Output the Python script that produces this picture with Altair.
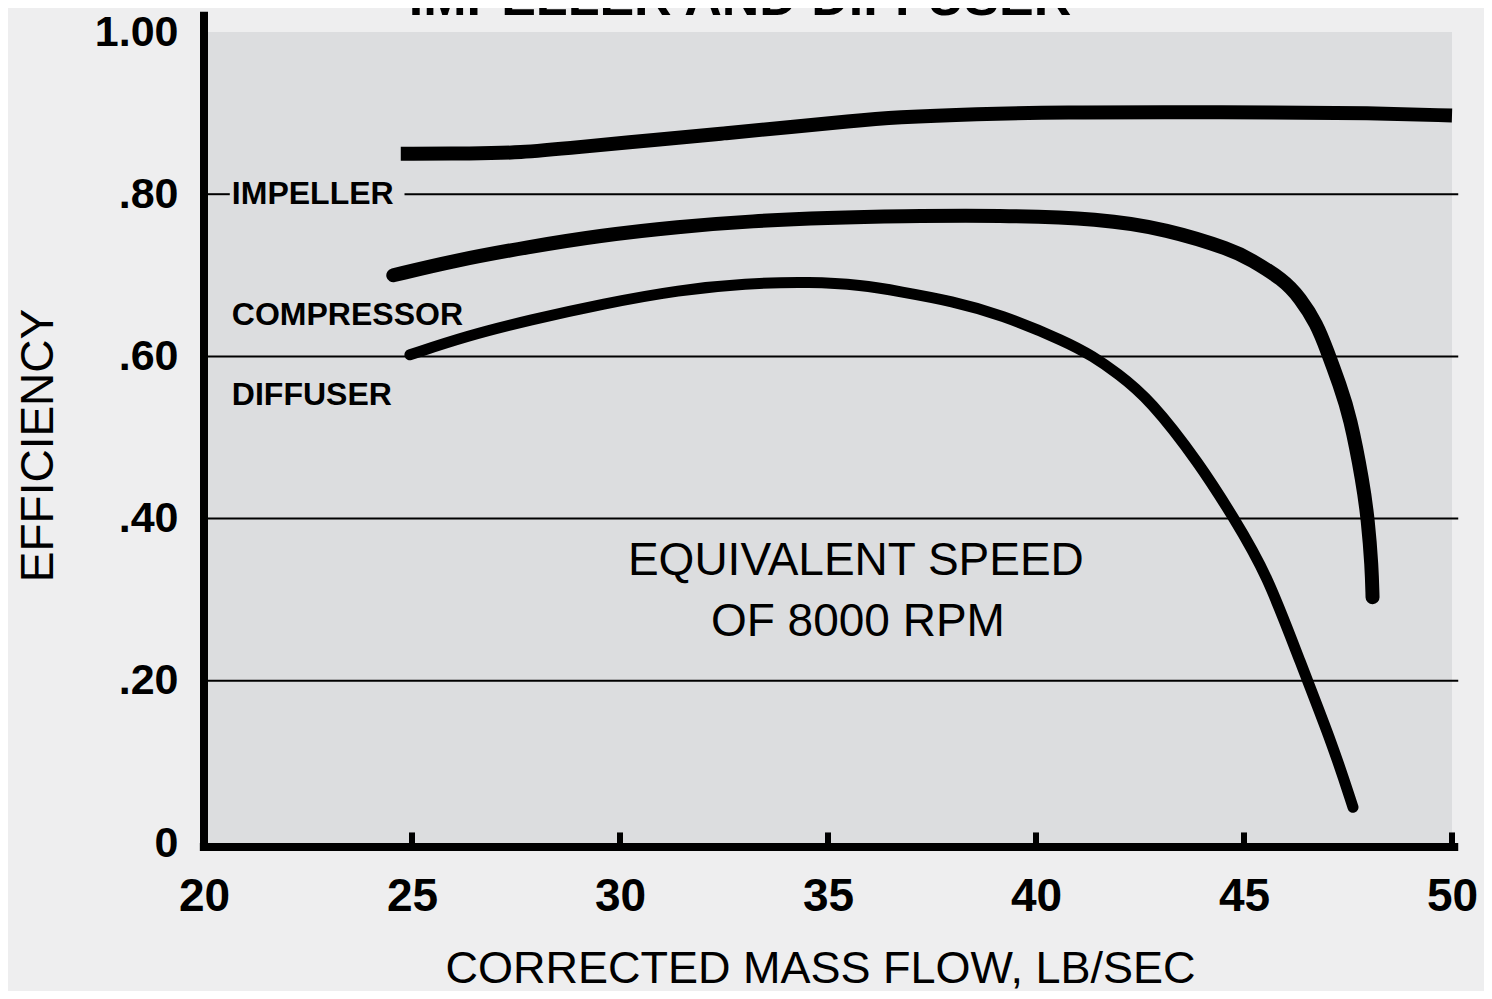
import altair as alt
import pandas as pd

FONT = "Liberation Sans"

# ---- data ----
imp_x = [24.73, 26.5, 27.55, 29.0, 30.85, 32.5, 34.16, 35.5, 36.65, 38.5, 40.8, 43.0, 45.75, 48.0, 50.0]
imp_y = [0.850, 0.850, 0.851, 0.858, 0.867, 0.875, 0.883, 0.890, 0.895, 0.899, 0.901, 0.901, 0.901, 0.900, 0.897]

comp_x = [24.55, 26.0, 27.8, 29.5, 31.4, 33.2, 35.0, 36.73, 39.13, 41.54, 43.14, 44.74, 45.14,
          45.94, 46.35, 46.75, 47.0, 47.3, 47.55, 47.86, 47.98, 48.07, 48.09]
comp_y = [0.700, 0.718, 0.735, 0.749, 0.760, 0.767, 0.771, 0.773, 0.774, 0.770, 0.757, 0.731, 0.720,
          0.695, 0.672, 0.640, 0.607, 0.565, 0.526, 0.444, 0.398, 0.341, 0.303]

diff_x = [24.95, 26.3, 27.84, 29.6, 31.44, 33.0, 34.6, 35.8, 36.73, 38.0, 39.13, 40.74, 41.37,
          41.94, 42.74, 43.94, 44.74, 45.55, 46.35, 47.14, 47.62]
diff_y = [0.602, 0.625, 0.645, 0.665, 0.682, 0.690, 0.692, 0.688, 0.680, 0.668, 0.652, 0.618, 0.600,
          0.580, 0.547, 0.467, 0.402, 0.332, 0.223, 0.120, 0.044]

x_ticks = [20, 25, 30, 35, 40, 45, 50]
inner_ticks = [25, 30, 35, 40, 45, 50]
y_ticks = [0, 0.2, 0.4, 0.6, 0.8, 1.0]
y_tick_labels = ["0", ".20", ".40", ".60", ".80", "1.00"]
grid_values = [0.2, 0.4, 0.6]

series_names = ["IMPELLER", "COMPRESSOR", "DIFFUSER"]
label_x = [20.67, 20.67, 20.67]
label_y = [0.80, 0.651, 0.553]

note_lines = ["EQUIVALENT SPEED", "OF 8000 RPM"]
note_x = [35.67, 35.72]
note_y = [0.348, 0.272]

title_text = "IMPELLER AND DIFFUSER"

# ---- tables ----
imp = pd.DataFrame({"x": imp_x, "y": imp_y, "s": "IMPELLER"})
comp = pd.DataFrame({"x": comp_x, "y": comp_y, "s": "COMPRESSOR"})
diff = pd.DataFrame({"x": diff_x, "y": diff_y, "s": "DIFFUSER"})

grid_df = pd.DataFrame({
    "x": [20.0] * len(grid_values) + [20.0, 24.82],
    "x2": [50.15] * len(grid_values) + [20.62, 50.15],
    "y": grid_values + [0.8, 0.8],
})
labels_df = pd.DataFrame({"x": label_x, "y": label_y, "t": series_names})
notes_df = pd.DataFrame({"x": note_x, "y": note_y, "t": note_lines})
ticks_df = pd.DataFrame({"x": inner_ticks, "y": [0.0] * len(inner_ticks), "y2": [0.013] * len(inner_ticks)})
yaxis_df = pd.DataFrame({"x": [20.0], "y": [-0.006], "y2": [1.025]})
xaxis_df = pd.DataFrame({"x": [19.9], "x2": [50.15], "y": [-0.005]})

label_expr = "".join(
    f"abs(datum.value - {v}) < 0.0001 ? '{lab}' : " for v, lab in zip(y_ticks, y_tick_labels)
) + "''"

xscale = alt.Scale(domain=[20, 50], nice=False, zero=False)
yscale = alt.Scale(domain=[0, 1], nice=False)

xaxis = alt.Axis(
    values=x_ticks, format="d", domain=False, ticks=False, tickSize=0, grid=False,
    labelFont=FONT, labelFontSize=46, labelFontWeight="bold", labelColor="black",
    labelPadding=67, labelBaseline="alphabetic", labelFlush=False, labelOverlap=False,
    title="CORRECTED MASS FLOW, LB/SEC", titleFont=FONT, titleFontSize=45,
    titleFontWeight="normal", titleColor="black", titleX=616, titleY=125,
    titleBaseline="middle", titleAlign="center", titleAnchor="middle",
)
yaxis = alt.Axis(
    values=y_ticks, labelExpr=label_expr, domain=False, ticks=False, tickSize=0, grid=False,
    labelFont=FONT, labelFontSize=43, labelFontWeight="bold", labelColor="black",
    labelPadding=26, labelBaseline="middle", labelFlush=False, labelOverlap=False,
    title="EFFICIENCY", titleFont=FONT, titleFontSize=46, titleFontWeight="normal",
    titleColor="black", titleX=-166, titleY=413, titleAngle=270,
    titleBaseline="middle", titleAlign="center", titleAnchor="middle",
)


def X(field="x"):
    return alt.X(field, type="quantitative", scale=xscale, axis=xaxis)


def Y(field="y"):
    return alt.Y(field, type="quantitative", scale=yscale, axis=yaxis)


grid = alt.Chart(grid_df).mark_rule(color="black", strokeWidth=2).encode(
    x=X(), x2="x2:Q", y=Y()
)
yline = alt.Chart(yaxis_df).mark_rule(color="black", strokeWidth=8).encode(
    x=X(), y=Y(), y2="y2:Q"
)
xline = alt.Chart(xaxis_df).mark_rule(color="black", strokeWidth=8).encode(
    x=X(), x2="x2:Q", y=Y()
)
tick_marks = alt.Chart(ticks_df).mark_rule(color="black", strokeWidth=6).encode(
    x=X(), y=Y(), y2="y2:Q"
)

imp_line = alt.Chart(imp).mark_line(
    color="black", strokeWidth=14, interpolate="basis", strokeCap="butt"
).encode(x=X(), y=Y())
comp_line = alt.Chart(comp).mark_line(
    color="black", strokeWidth=14, interpolate="basis", strokeCap="round"
).encode(x=X(), y=Y())
diff_line = alt.Chart(diff).mark_line(
    color="black", strokeWidth=11, interpolate="basis", strokeCap="round"
).encode(x=X(), y=Y())

curve_labels = alt.Chart(labels_df).mark_text(
    font=FONT, fontSize=32, fontWeight="bold", color="black", align="left", baseline="middle"
).encode(x=X(), y=Y(), text="t:N")

notes = alt.Chart(notes_df).mark_text(
    font=FONT, fontSize=46, fontWeight="normal", color="black", align="center", baseline="middle"
).encode(x=X(), y=Y(), text="t:N")

title_frag = alt.Chart(pd.DataFrame({"t": [title_text]})).mark_text(
    font=FONT, fontSize=52, fontWeight="bold", color="black", align="center", baseline="alphabetic"
).encode(x=alt.value(536), y=alt.value(-17), text="t:N")

chart = alt.layer(
    grid, imp_line, comp_line, diff_line, curve_labels, notes, tick_marks, xline, yline, title_frag
).properties(
    width=1248, height=811,
    autosize=alt.AutoSizeParams(type="none"),
    padding={"left": 196, "top": 24, "right": 32, "bottom": 148},
    background="#eeeeef",
).configure_view(fill="#dcdddf", stroke=None)

chart.save("out.html", embed_options={"renderer": "svg", "actions": False})
